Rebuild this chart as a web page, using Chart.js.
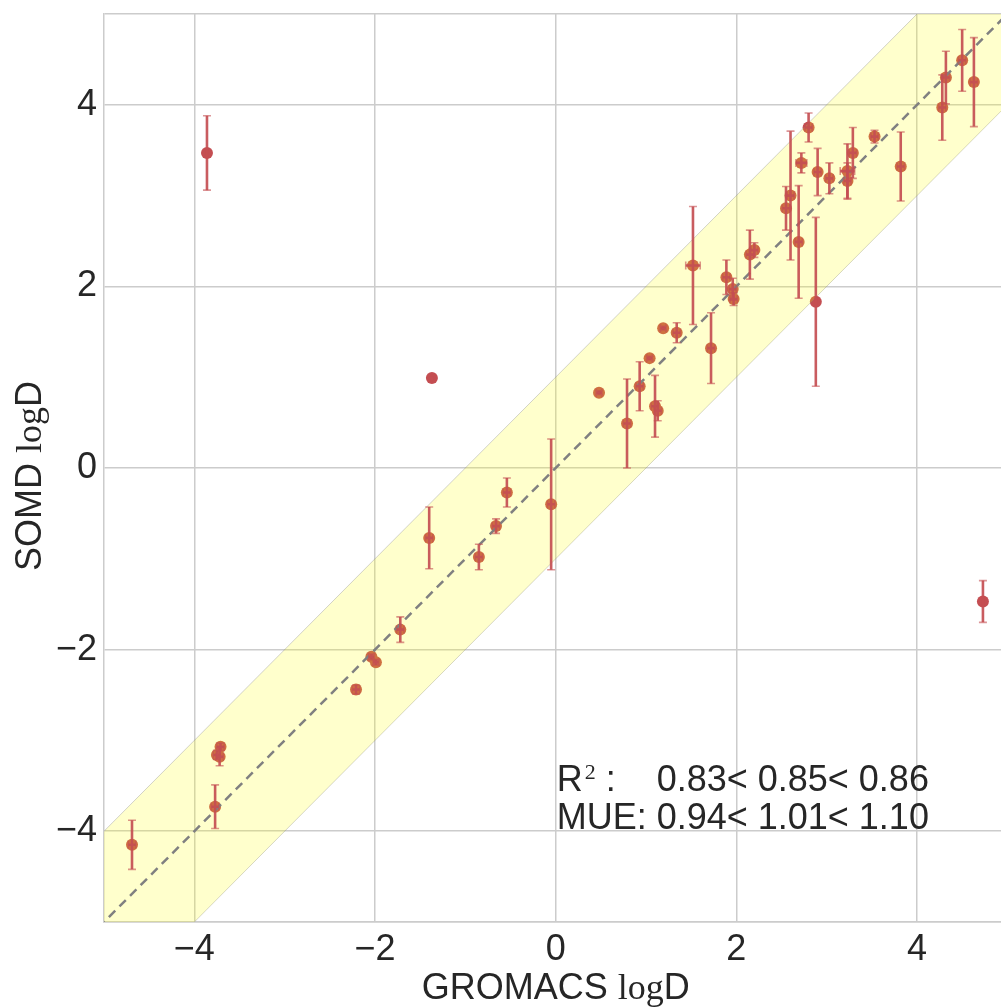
<!DOCTYPE html>
<html lang="en">
<head>
<meta charset="utf-8">
<script src="https://cdn.jsdelivr.net/npm/chart.js@4.4.1/dist/chart.umd.min.js"></script>
<style>
    html, body {margin:0; padding:0; background:#fff;}
    canvas {display:block;}
</style>
</head>
<body>

<canvas id="canvas" width="1001" height="1007"></canvas>

<script type="text/javascript">
'use strict';

// logD per molecule: GROMACS (x) vs SOMD (y), with error estimates
var gromacs = [-4.69, -3.86, -3.77, -3.75, -3.71, -3.72, -2.21, -2.04, -1.99, -1.72,
               -1.40, -1.37, -0.85, -0.66, -0.54, -0.05, 0.48, 0.79, 0.93, 1.04,
               1.10, 1.13, 1.19, 1.34, 1.52, 1.72, 1.89, 1.96, 1.97, 2.15,
               2.20, 2.55, 2.60, 2.69, 2.72, 2.80, 2.88, 2.90, 3.03, 3.23,
               3.23, 3.29, 3.53, 3.82, 4.28, 4.32, 4.50, 4.63, 4.73];
var somd = [-4.15, 3.47, -3.73, -3.16, -3.07, -3.18, -2.44, -2.08, -2.14, -1.78,
            -0.77, 0.99, -0.98, -0.64, -0.27, -0.40, 0.83, 0.49, 0.90, 1.21,
            0.68, 0.63, 1.54, 1.49, 2.23, 1.32, 2.10, 1.97, 1.86, 2.35,
            2.40, 2.86, 3.00, 2.49, 3.36, 3.75, 1.83, 3.26, 3.19, 3.27,
            3.16, 3.47, 3.65, 3.32, 3.97, 4.30, 4.49, 4.25, -1.47];
var somdErr = [0.27, 0.41, 0.24, 0.05, 0.04, 0.10, 0.05, 0.03, 0.03, 0.14,
               0.34, 0.03, 0.14, 0.08, 0.16, 0.72, 0.02, 0.49, 0.27, 0.02,
               0.34, 0.11, 0.02, 0.11, 0.65, 0.39, 0.19, 0.12, 0.07, 0.27,
               0.08, 0.24, 0.71, 0.62, 0.11, 0.16, 0.93, 0.26, 0.17, 0.30,
               0.20, 0.28, 0.07, 0.38, 0.36, 0.29, 0.34, 0.49, 0.23];
var gromacsErr = [0.04, 0.01, 0.04, 0.04, 0.04, 0.04, 0.04, 0.03, 0.03, 0.04,
                  0.04, 0.03, 0.04, 0.04, 0.04, 0.04, 0.03, 0.04, 0.04, 0.03,
                  0.04, 0.04, 0.03, 0.04, 0.08, 0.04, 0.04, 0.04, 0.04, 0.04,
                  0.04, 0.04, 0.04, 0.04, 0.06, 0.04, 0.01, 0.04, 0.04, 0.08,
                  0.04, 0.04, 0.04, 0.04, 0.04, 0.04, 0.04, 0.04, 0.01];

var xTicks = [-4, -2, 0, 2, 4];
var yTicks = [-5, -4, -2, 0, 2, 4, 5];
var r2Stats = ['0.83', '0.85', '0.86'];
var mueStats = ['0.94', '1.01', '1.10'];

var SANS = '"Liberation Sans", Arial, sans-serif';
var SERIF = '"Liberation Serif", "DejaVu Serif", serif';
var RED = '#c44e52';

function tickLabel(v) {
    if (v === 5 || v === -5) return '';
    return v < 0 ? '\u2212' + Math.abs(v) : String(v);
}

function drawParts(ctx, parts, x, y) {
    parts.forEach(function (p) {
        ctx.font = p[1];
        ctx.fillText(p[0], x, y);
        x += ctx.measureText(p[0]).width;
    });
}
function partsWidth(ctx, parts) {
    var w = 0;
    parts.forEach(function (p) { ctx.font = p[1]; w += ctx.measureText(p[0]).width; });
    return w;
}

// error bars sit on top of the band, the markers below it
var errorBars = {
    id: 'errorBars',
    afterDatasetsDraw: function (chart) {
        var ctx = chart.ctx, xs = chart.scales.x, ys = chart.scales.y, a = chart.chartArea;
        ctx.save();
        ctx.beginPath();
        ctx.rect(a.left, a.top, a.right - a.left, a.bottom - a.top);
        ctx.clip();
        for (var i = 0; i < gromacs.length; i++) {
            var px = xs.getPixelForValue(gromacs[i]);
            var py = ys.getPixelForValue(somd[i]);
            var top = ys.getPixelForValue(somd[i] + somdErr[i]);
            var bot = ys.getPixelForValue(somd[i] - somdErr[i]);
            var lft = xs.getPixelForValue(gromacs[i] - gromacsErr[i]);
            var rgt = xs.getPixelForValue(gromacs[i] + gromacsErr[i]);
            ctx.strokeStyle = 'rgba(196,78,82,0.92)';
            ctx.lineWidth = 2.6;
            ctx.beginPath();
            ctx.moveTo(px, top); ctx.lineTo(px, bot);
            ctx.moveTo(lft, py); ctx.lineTo(rgt, py);
            ctx.stroke();
            ctx.strokeStyle = 'rgba(196,78,82,0.6)';
            ctx.lineWidth = 1.6;
            ctx.beginPath();
            ctx.moveTo(px - 4, top); ctx.lineTo(px + 4, top);
            ctx.moveTo(px - 4, bot); ctx.lineTo(px + 4, bot);
            ctx.moveTo(lft, py - 4); ctx.lineTo(lft, py + 4);
            ctx.moveTo(rgt, py - 4); ctx.lineTo(rgt, py + 4);
            ctx.stroke();
        }
        ctx.restore();
    }
};

// axis titles (mixed fonts) and the statistics text
var labels = {
    id: 'labels',
    afterDraw: function (chart) {
        var ctx = chart.ctx, xs = chart.scales.x, ys = chart.scales.y, a = chart.chartArea;
        var big = '36px ' + SANS, mathF = '36px ' + SERIF;
        ctx.save();
        ctx.fillStyle = '#262626';
        ctx.textBaseline = 'alphabetic';
        ctx.textAlign = 'left';

        var xt = [['GROMACS ', big], ['log', mathF], ['D', big]];
        drawParts(ctx, xt, xs.getPixelForValue(0) - partsWidth(ctx, xt) / 2, 999);

        var yt = [['SOMD ', big], ['log', mathF], ['D', big]];
        ctx.save();
        ctx.translate(41, (a.top + a.bottom) / 2 + 8);
        ctx.rotate(-Math.PI / 2);
        drawParts(ctx, yt, -partsWidth(ctx, yt) / 2, 0);
        ctx.restore();

        var x0 = xs.getPixelForValue(0) + 1;
        var y1 = ys.getPixelForValue(-3.56), y2 = ys.getPixelForValue(-3.98);
        ctx.font = big;
        var numX = x0 + ctx.measureText('MUE: ').width;
        ctx.fillText('R', x0, y1);
        var rx = x0 + ctx.measureText('R').width + 2;
        ctx.font = '22px ' + SERIF;
        ctx.fillText('2', rx, y1 - 12);
        rx += ctx.measureText('2').width;
        ctx.font = big;
        ctx.fillText(' :', rx, y1);
        ctx.fillText(r2Stats.join('< '), numX, y1);
        ctx.fillText('MUE: ' + mueStats.join('< '), x0, y2);
        ctx.restore();
    }
};

function drawGraph() {
    var pts = gromacs.map(function (v, i) { return {x: v, y: somd[i]}; });
    new Chart(document.getElementById('canvas'), {
        type: 'line',
        data: {
            datasets: [
                {   // y = x reference
                    data: [{x: -6, y: -6}, {x: 6, y: 6}],
                    borderColor: '#808080', borderWidth: 2.5, borderDash: [9, 6],
                    pointRadius: 0, fill: false, order: 0
                },
                {   // +1 edge of the band
                    data: [{x: -6, y: -5}, {x: 6, y: 7}],
                    borderColor: 'rgba(128,128,128,0.35)', borderWidth: 1,
                    backgroundColor: 'rgba(255,255,0,0.2)',
                    pointRadius: 0, fill: '+1', order: 1
                },
                {   // -1 edge of the band
                    data: [{x: -6, y: -7}, {x: 6, y: 5}],
                    borderColor: 'rgba(128,128,128,0.35)', borderWidth: 1,
                    pointRadius: 0, fill: false, order: 1
                },
                {
                    data: pts, showLine: false,
                    pointRadius: 6, pointBackgroundColor: RED, pointBorderWidth: 0,
                    order: 2
                }
            ]
        },
        options: {
            responsive: false,
            animation: false,
            events: [],
            layout: {autoPadding: false, padding: {top: 14, left: 0, right: 0, bottom: 0}},
            plugins: {legend: {display: false}, tooltip: {enabled: false}},
            scales: {
                x: {
                    type: 'linear', min: -5, max: 4.93,
                    afterBuildTicks: function (s) { s.ticks = xTicks.map(function (v) { return {value: v}; }); },
                    afterFit: function (s) { s.height = 85; s.paddingLeft = 0; s.paddingRight = 0; },
                    grid: {color: '#cccccc', lineWidth: 1.5, drawTicks: false},
                    border: {color: '#cccccc', width: 1.5},
                    ticks: {
                        padding: 6, color: '#262626', font: {family: SANS, size: 36},
                        maxRotation: 0, callback: tickLabel
                    }
                },
                y: {
                    type: 'linear', min: -5, max: 5,
                    afterBuildTicks: function (s) { s.ticks = yTicks.map(function (v) { return {value: v}; }); },
                    afterFit: function (s) { s.width = 104; s.paddingTop = 0; s.paddingBottom = 0; },
                    grid: {color: '#cccccc', lineWidth: 1.5, drawTicks: false},
                    border: {color: '#cccccc', width: 1.5},
                    ticks: {
                        padding: 7, color: '#262626', font: {family: SANS, size: 36},
                        callback: tickLabel
                    }
                }
            }
        },
        plugins: [errorBars, labels]
    });
}
window.onload = function () {
    drawGraph();
};
</script>
</body>
</html>
